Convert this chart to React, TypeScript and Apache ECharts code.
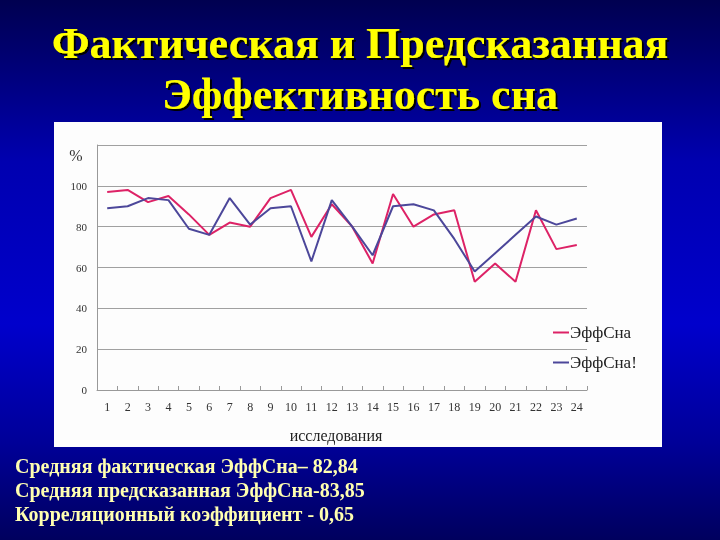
import { useEffect, useRef } from 'react'
import * as echarts from 'echarts'

// исследования 1..24
const studies = ['1', '2', '3', '4', '5', '6', '7', '8', '9', '10', '11', '12', '13', '14', '15', '16', '17', '18', '19', '20', '21', '22', '23', '24']
// фактическая эффективность сна, %
const actual = [97, 98, 92, 95, 86, 76, 82, 80, 94, 98, 75, 91, 80, 62, 96, 80, 86, 88, 53, 62, 53, 88, 69, 71]
// предсказанная эффективность сна, %
const predicted = [89, 90, 94, 93, 79, 76, 94, 81, 89, 90, 63, 93, 80, 66, 90, 91, 88, 74, 58, 67, 76, 85, 81, 84]

const titleLines = ['Фактическая и Предсказанная', 'Эффективность сна']
const noteLines = [
  'Средняя фактическая ЭффСна– 82,84',
  'Средняя предсказанная ЭффСна-83,85',
  'Корреляционный коэффициент - 0,65',
]

const SERIF = '"Liberation Serif", "Times New Roman", serif'

export default function App() {
  const ref = useRef<HTMLDivElement>(null)

  useEffect(() => {
    if (!ref.current) return
    const chart = echarts.init(ref.current, null, { renderer: 'svg' })

    chart.setOption({
      animation: false,
      graphic: [
        {
          type: 'rect',
          z: -20,
          shape: { x: 0, y: 0, width: 720, height: 540 },
          style: {
            fill: new echarts.graphic.LinearGradient(0, 0, 0, 1, [
              { offset: 0, color: '#000050' },
              { offset: 0.3, color: '#0000b0' },
              { offset: 0.6, color: '#0000cc' },
              { offset: 0.82, color: '#000098' },
              { offset: 1, color: '#00005e' },
            ]),
          },
        },
        {
          type: 'rect',
          z: -10,
          shape: { x: 54, y: 122, width: 608, height: 325 },
          style: { fill: '#fdfdfd' },
        },
        ...titleLines.map((t, i) => ({
          type: 'text',
          z: 10,
          x: 360,
          y: 43 + i * 51,
          style: {
            text: t,
            fill: '#ffff00',
            font: `bold 44px ${SERIF}`,
            align: 'center',
            verticalAlign: 'middle',
            textShadowColor: '#000000',
            textShadowOffsetX: 2,
            textShadowOffsetY: 2,
            textShadowBlur: 1,
          },
        })),
        ...noteLines.map((t, i) => ({
          type: 'text',
          z: 10,
          x: 15,
          y: 466 + i * 24,
          style: {
            text: t,
            fill: '#ffffb0',
            font: `bold 20px ${SERIF}`,
            align: 'left',
            verticalAlign: 'middle',
          },
        })),
        {
          type: 'text',
          z: 10,
          x: 76,
          y: 155,
          style: {
            text: '%',
            fill: '#333',
            font: `16px ${SERIF}`,
            align: 'center',
            verticalAlign: 'middle',
          },
        },
      ],
      grid: { left: 97, right: 133, top: 145, bottom: 150, containLabel: false },
      legend: {
        orient: 'vertical',
        left: 553,
        top: 324,
        padding: 0,
        itemGap: 13,
        icon: 'rect',
        itemWidth: 16,
        itemHeight: 2,
        textStyle: { fontFamily: SERIF, fontSize: 17, color: '#222', padding: [0, 0, 0, -4] },
        data: ['ЭффСна', 'ЭффСна!'],
      },
      xAxis: {
        type: 'category',
        data: studies,
        boundaryGap: true,
        name: 'исследования',
        nameLocation: 'middle',
        nameGap: 37,
        nameTextStyle: { fontFamily: SERIF, fontSize: 16, color: '#222', padding: [0, 12, 0, 0] },
        axisLine: { lineStyle: { color: '#999', width: 1 } },
        axisTick: { show: true, inside: true, length: 4, lineStyle: { color: '#999' } },
        axisLabel: { fontFamily: SERIF, fontSize: 12, color: '#333', margin: 11, interval: 0 },
        splitLine: { show: false },
      },
      yAxis: {
        type: 'value',
        min: 0,
        max: 120,
        interval: 20,
        axisLine: { show: true, lineStyle: { color: '#999', width: 1 } },
        axisTick: { show: false },
        axisLabel: {
          fontFamily: SERIF,
          fontSize: 11,
          color: '#333',
          margin: 10,
          formatter: (v: number) => (v === 120 ? '' : String(v)),
        },
        splitLine: { lineStyle: { color: '#a0a0a0', width: 1 } },
      },
      series: [
        {
          name: 'ЭффСна',
          type: 'line',
          data: actual,
          symbol: 'none',
          lineStyle: { color: '#dd2266', width: 2 },
          itemStyle: { color: '#dd2266' },
          z: 3,
        },
        {
          name: 'ЭффСна!',
          type: 'line',
          data: predicted,
          symbol: 'none',
          lineStyle: { color: '#4c479a', width: 2 },
          itemStyle: { color: '#4c479a' },
          z: 4,
        },
      ],
    })

    return () => chart.dispose()
  }, [])

  return (
    <div
      ref={ref}
      style={{ position: 'fixed', left: 0, top: 0, width: 720, height: 540 }}
    />
  )
}
